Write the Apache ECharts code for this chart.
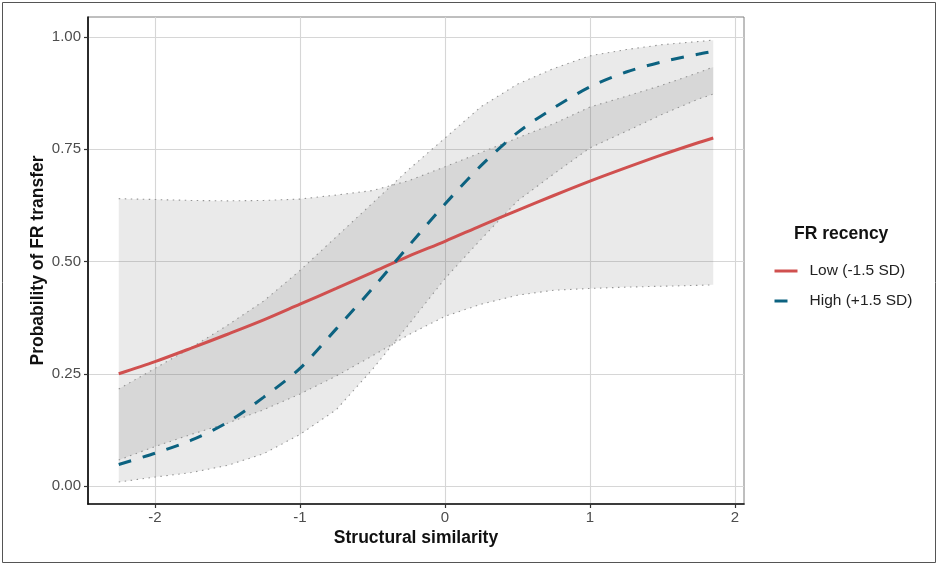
<!DOCTYPE html>
<html lang="en">
<head>
	<meta charset="UTF-8">
	<title>FR transfer</title>
	<style>
		html, body { margin: 0; padding: 0; background: #fff; }
		#main { width: 938px; height: 566px; }
	</style>
	<script src="https://cdn.jsdelivr.net/npm/echarts@6/dist/echarts.min.js"></script>
</head>
<body>
	<div id="main"></div>
	<script>
		// structural similarity (x)
		var xs = [-2.25, -2, -1.75, -1.5, -1.25, -1, -0.75, -0.5, -0.25, 0, 0.25, 0.5, 0.75, 1, 1.25, 1.5, 1.75, 1.85];

		// Low (-1.5 SD): fit and band
		var lowFit = [0.250, 0.277, 0.307, 0.338, 0.370, 0.405, 0.440, 0.476, 0.512, 0.545, 0.580, 0.614, 0.647, 0.679, 0.709, 0.738, 0.765, 0.775];
		var lowLo  = [0.058, 0.088, 0.115, 0.140, 0.170, 0.205, 0.245, 0.290, 0.337, 0.378, 0.405, 0.425, 0.436, 0.440, 0.443, 0.445, 0.447, 0.448];
		var lowHi  = [0.640, 0.638, 0.636, 0.635, 0.636, 0.639, 0.648, 0.658, 0.680, 0.711, 0.743, 0.775, 0.807, 0.844, 0.868, 0.893, 0.921, 0.933];

		// High (+1.5 SD): fit and band
		var highFit = [0.048, 0.073, 0.102, 0.142, 0.198, 0.262, 0.350, 0.440, 0.535, 0.628, 0.714, 0.787, 0.842, 0.889, 0.922, 0.945, 0.962, 0.968];
		var highLo  = [0.009, 0.020, 0.030, 0.046, 0.072, 0.115, 0.170, 0.260, 0.360, 0.462, 0.550, 0.635, 0.695, 0.753, 0.790, 0.828, 0.862, 0.873];
		var highHi  = [0.216, 0.262, 0.308, 0.358, 0.412, 0.480, 0.555, 0.630, 0.705, 0.775, 0.845, 0.895, 0.930, 0.958, 0.972, 0.983, 0.990, 0.993];

		var xTicks = [-2, -1, 0, 1, 2];
		var yTicks = [0, 0.25, 0.5, 0.75, 1];

		var seriesNames = ['Low (-1.5 SD)', 'High (+1.5 SD)'];
		var colors = ['#D0504F', '#0C6280'];

		var font = 'Liberation Sans';

		function pairs(ys) {
			return xs.map(function (x, i) { return [x, ys[i]]; });
		}

		var edge = { color: '#959595', width: 1.1, type: [1.5, 4.5] };

		// 置信带: 多边形填充 + 虚点边线
		function band(name, lo, hi) {
			var fillSeries = {
				name: name + '_band',
				type: 'custom',
				silent: true,
				z: 2,
				data: [[xs[0], lo[0]]],
				renderItem: function (params, api) {
					var pts = [];
					for (var i = 0; i < xs.length; i++) pts.push(api.coord([xs[i], hi[i]]));
					for (var j = xs.length - 1; j >= 0; j--) pts.push(api.coord([xs[j], lo[j]]));
					return {
						type: 'polygon',
						shape: { points: pts },
						style: { fill: 'rgba(90,90,90,0.13)', stroke: null }
					};
				}
			};
			var edgeLine = function (ys, suffix) {
				return {
					name: name + suffix,
					type: 'line',
					data: pairs(ys),
					symbol: 'none',
					lineStyle: edge,
					silent: true,
					z: 3
				};
			};
			return [fillSeries, edgeLine(lo, '_lo'), edgeLine(hi, '_hi')];
		}

		var myChart = echarts.init(document.getElementById('main'));

		var option = {
			animation: false,
			backgroundColor: '#fff',
			textStyle: { fontFamily: font },
			graphic: [{
				type: 'rect',
				shape: { x: 2.5, y: 2.5, width: 933, height: 560 },
				style: { fill: 'none', stroke: '#555', lineWidth: 1 },
				silent: true
			}],
			title: {
				text: 'FR recency',
				left: 794,
				top: 225,
				padding: 0,
				textStyle: { fontFamily: font, fontSize: 17.5, fontWeight: 'bold', color: '#111' }
			},
			legend: {
				data: seriesNames,
				orient: 'vertical',
				left: 773,
				top: 263,
				padding: 0,
				itemWidth: 23,
				itemHeight: 14,
				itemGap: 14,
				itemStyle: { opacity: 0 },
				lineStyle: { width: 3 },
				textStyle: { fontFamily: font, fontSize: 15.5, color: '#222', padding: [0, 0, 0, 7] }
			},
			grid: {
				left: 88,
				right: 194,
				top: 17,
				bottom: 62,
				show: true,
				borderColor: '#7f7f7f',
				borderWidth: 1,
				backgroundColor: 'transparent'
			},
			xAxis: {
				type: 'value',
				min: -2.462,
				max: 2.062,
				name: 'Structural similarity',
				nameLocation: 'middle',
				nameGap: 25,
				nameMoveOverlap: false,
				nameTextStyle: { fontFamily: font, fontSize: 17.5, fontWeight: 'bold', color: '#111' },
				axisLine: { show: true, onZero: false, lineStyle: { color: '#111', width: 1.7 } },
				axisTick: { show: true, length: 4, customValues: xTicks, lineStyle: { color: '#333', width: 1.2 } },
				axisLabel: {
					customValues: xTicks,
					margin: 6,
					fontFamily: font,
					fontSize: 15,
					color: '#4D4D4D',
					formatter: function (v) { return String(v); }
				},
				splitLine: { show: true, lineStyle: { color: '#d6d6d6', width: 1.1 } }
			},
			yAxis: {
				type: 'value',
				min: -0.04,
				max: 1.0445,
				name: 'Probability of FR transfer',
				nameLocation: 'middle',
				nameRotate: 90,
				nameGap: 41,
				nameMoveOverlap: false,
				nameTextStyle: { fontFamily: font, fontSize: 17.5, fontWeight: 'bold', color: '#111' },
				axisLine: { show: true, onZero: false, lineStyle: { color: '#111', width: 1.7 } },
				axisTick: { show: true, length: 4, customValues: yTicks, lineStyle: { color: '#333', width: 1.2 } },
				axisLabel: {
					customValues: yTicks,
					margin: 7,
					fontFamily: font,
					fontSize: 15,
					color: '#4D4D4D',
					formatter: function (v) { return v.toFixed(2); }
				},
				splitLine: { show: true, lineStyle: { color: '#d6d6d6', width: 1.1 } }
			},
			series: [].concat(
				band('low', lowLo, lowHi),
				band('high', highLo, highHi),
				[{
					name: seriesNames[0],
					type: 'line',
					data: pairs(lowFit),
					symbol: 'none',
					smooth: 0.3,
					color: colors[0],
					lineStyle: { color: colors[0], width: 3 },
					z: 4
				}, {
					name: seriesNames[1],
					type: 'line',
					data: pairs(highFit),
					symbol: 'none',
					smooth: 0.3,
					color: colors[1],
					lineStyle: { color: colors[1], width: 3, type: [13, 12] },
					z: 5
				}]
			)
		};

		myChart.setOption(option);
	</script>
</body>
</html>
